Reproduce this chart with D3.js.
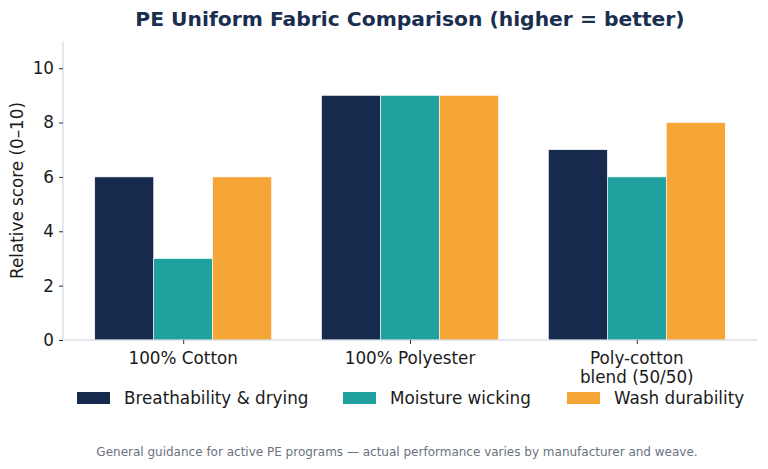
<!DOCTYPE html>
<html>
<head>
<meta charset="utf-8">
<script src="https://cdn.jsdelivr.net/npm/d3@7"></script>
<style>
  body { margin: 0; background: #fff; }
  svg { display: block; font-family: "DejaVu Sans", sans-serif; }
</style>
</head>
<body>
<svg id="chart" width="768" height="469"></svg>
<script>
// fabrics and their scores
var fabrics = [["100% Cotton"], ["100% Polyester"], ["Poly-cotton", "blend (50/50)"]]
var seriesNames = ["Breathability & drying", "Moisture wicking", "Wash durability"]
var breathability = [6, 9, 7]
var wicking = [3, 9, 6]
var durability = [6, 9, 8]
var yTicks = [0, 2, 4, 6, 8, 10]

var colors = ["#152a4c", "#20a09e", "#f5a637"]
var series = [breathability, wicking, durability]

function drawChart() {
	var svg = d3.select('#chart')
	var plotLeft = 63, plotRight = 757, plotTop = 41, plotBottom = 340
	var fs = 16.8

	// matplotlib-like continuous x: categories at 0,1,2
	var x = d3.scaleLinear().domain([-0.53, 2.53]).range([plotLeft, plotRight])
	var y = d3.scaleLinear().domain([0, 11]).range([plotBottom, plotTop])
	var barW = 0.26

	// bars
	series.forEach(function(vals, s) {
		svg.append('g').selectAll('rect')
			.data(vals)
			.join('rect')
				.attr('x', (d, i) => x(i + (s - 1) * barW - barW / 2))
				.attr('width', x(barW) - x(0))
				.attr('y', d => y(d))
				.attr('height', d => y(0) - y(d))
				.attr('fill', colors[s])
				.attr('stroke', '#fff')
				.attr('stroke-width', 0.6)
	})

	// spines
	var spine = '#c9d2de'
	svg.append('line')
		.attr('x1', plotLeft).attr('x2', plotLeft).attr('y1', plotTop).attr('y2', plotBottom)
		.attr('stroke', spine)
	svg.append('line')
		.attr('x1', plotLeft).attr('x2', plotRight).attr('y1', plotBottom).attr('y2', plotBottom)
		.attr('stroke', spine)

	var yAxis = svg.append('g')
		.attr('transform', 'translate(' + plotLeft + ',0)')
		.call(d3.axisLeft(y).tickValues(yTicks).tickSize(4).tickPadding(5))
	yAxis.select('.domain').remove()
	yAxis.selectAll('.tick line').attr('stroke', '#333')
	yAxis.selectAll('.tick text')
		.attr('font-size', fs).attr('font-family', 'DejaVu Sans').attr('fill', '#1a1a1a')

	var xAxis = svg.append('g')
		.attr('transform', 'translate(0,' + plotBottom + ')')
		.call(d3.axisBottom(x).tickValues([0, 1, 2]).tickSize(4).tickFormat(''))
	xAxis.select('.domain').remove()
	xAxis.selectAll('.tick line').attr('stroke', '#333')

	// category labels (can be two lines)
	fabrics.forEach(function(lines, i) {
		var t = svg.append('text')
			.attr('x', x(i))
			.attr('y', plotBottom + 24)
			.attr('text-anchor', 'middle')
			.attr('font-size', fs)
			.attr('fill', '#1a1a1a')
		lines.forEach(function(line, k) {
			t.append('tspan').attr('x', x(i)).attr('dy', k ? 19 : 0).text(line)
		})
	})

	// y label
	svg.append('text')
		.attr('transform', 'translate(23,' + ((plotTop + plotBottom) / 2) + ') rotate(-90)')
		.attr('text-anchor', 'middle')
		.attr('font-size', fs)
		.attr('fill', '#1a1a1a')
		.text('Relative score (0\u201310)')

	// title
	svg.append('text')
		.attr('x', (plotLeft + plotRight) / 2)
		.attr('y', 26)
		.attr('text-anchor', 'middle')
		.attr('font-size', 20.3)
		.attr('font-weight', 'bold')
		.attr('fill', '#1a2e4f')
		.text('PE Uniform Fabric Comparison (higher = better)')

	// legend
	var legendX = [77, 343, 567]
	var legend = svg.append('g').selectAll('g')
		.data(seriesNames)
		.join('g')
			.attr('transform', (d, i) => 'translate(' + legendX[i] + ',398)')
	legend.append('rect')
		.attr('x', 0).attr('y', -6).attr('width', 33).attr('height', 12)
		.attr('fill', (d, i) => colors[i])
	legend.append('text')
		.attr('x', 47).attr('y', 6)
		.attr('font-size', fs)
		.attr('fill', '#1a1a1a')
		.text(d => d)

	// footnote
	svg.append('text')
		.attr('x', 397)
		.attr('y', 456)
		.attr('text-anchor', 'middle')
		.attr('font-size', 12)
		.attr('fill', '#6b7280')
		.text('General guidance for active PE programs \u2014 actual performance varies by manufacturer and weave.')
}

drawChart()
</script>
</body>
</html>
